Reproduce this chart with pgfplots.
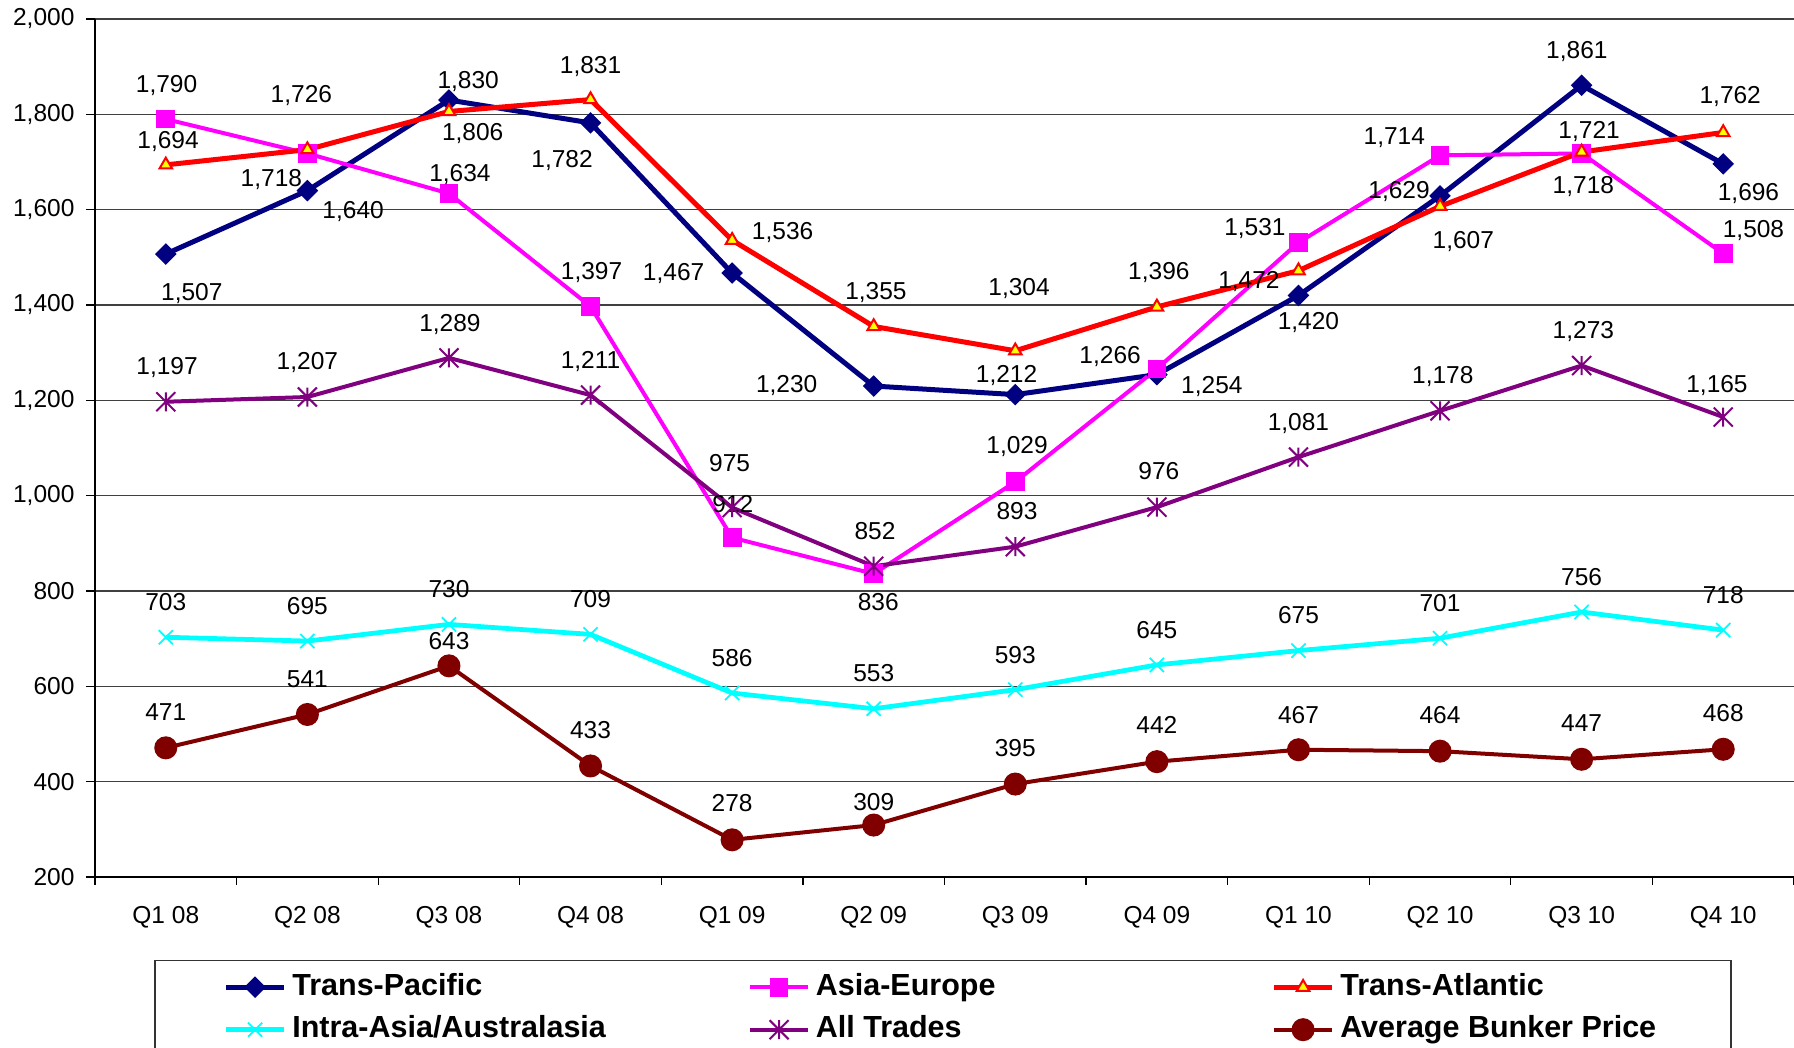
\documentclass[border=0pt]{standalone}
\usepackage{fontspec}
\setmainfont{Liberation Sans}
\usepackage{pgfplots}
\pgfplotsset{compat=1.18}

\definecolor{tpblue}{RGB}{0,0,128}
\definecolor{aemag}{RGB}{255,0,255}
\definecolor{tared}{RGB}{255,0,0}
\definecolor{tayel}{RGB}{255,255,0}
\definecolor{iacyan}{RGB}{0,255,255}
\definecolor{atpurp}{RGB}{128,0,128}
\definecolor{bkred}{RGB}{128,0,0}

% Excel-style star: an x with a vertical stroke
\pgfdeclareplotmark{xstar}{%
  \pgfpathmoveto{\pgfqpoint{-\pgfplotmarksize}{-\pgfplotmarksize}}%
  \pgfpathlineto{\pgfqpoint{\pgfplotmarksize}{\pgfplotmarksize}}%
  \pgfpathmoveto{\pgfqpoint{-\pgfplotmarksize}{\pgfplotmarksize}}%
  \pgfpathlineto{\pgfqpoint{\pgfplotmarksize}{-\pgfplotmarksize}}%
  \pgfpathmoveto{\pgfqpoint{0pt}{-\pgfplotmarksize}}%
  \pgfpathlineto{\pgfqpoint{0pt}{\pgfplotmarksize}}%
  \pgfusepathqstroke}

\newcommand{\lab}{\fontsize{9.8}{11}\selectfont}

\begin{document}
\begin{tikzpicture}
\begin{axis}[
    scale only axis,
    width=679.6pt, height=343.2pt,
    xmin=-0.5, xmax=11.5,
    ymin=200, ymax=2000,
    axis x line=bottom, axis y line=left,
    axis line style={-, black, line width=0.6pt},
    xtick={0,...,11},
    xticklabels={Q1 08,Q2 08,Q3 08,Q4 08,Q1 09,Q2 09,Q3 09,Q4 09,Q1 10,Q2 10,Q3 10,Q4 10},
    minor xtick={-0.5,0.5,...,11.5},
    major x tick style={draw=none},
    minor x tick style={black, line width=0.5pt},
    ytick={200,400,...,2000},
    ytick style={black, line width=0.5pt},
    tick align=outside,
    major tick length=3.5pt, minor tick length=3pt,
    ymajorgrids,
    major grid style={black!75, line width=0.5pt},
    scaled y ticks=false,
    /pgf/number format/assume math mode=true,
    tick label style={font=\lab, black},
    yticklabel style={/pgf/number format/1000 sep={,}, xshift=-1.2pt},
    xticklabel style={yshift=-4.8pt},
    point meta=y,
    nodes near coords={\pgfmathprintnumber[1000 sep={,}]{\pgfplotspointmeta}},
    visualization depends on={value \thisrow{dx} \as \dx},
    visualization depends on={value \thisrow{dy} \as \dy},
    every node near coord/.append style={black, font=\lab, inner sep=0pt,
        text height=0pt, text depth=0pt,
        xshift=\dx pt, yshift={(\dy-3.6)*1pt}},
    legend columns=3,
    legend style={
        at={(0.035,-0.0962)}, anchor=north west,
        draw=black!80, line width=0.5pt,
        inner xsep=27.5pt, inner ysep=5pt,
        font=\fontsize{12.2}{14}\selectfont\bfseries,
        row sep=5.4pt, column sep=0pt,
        nodes={inner xsep=2.4pt, inner ysep=0pt, text height=9pt, text depth=2.6pt},
        cells={anchor=west},
    },
    legend image code/.code={\draw[mark repeat=2,mark phase=2]
        plot coordinates {(0pt,0pt) (11.5pt,0pt) (23pt,0pt)};},
]

% Trans-Pacific
\addplot[tpblue, line width=2pt, mark=square*, mark size=2.8pt,
    mark options={rotate=45, fill=tpblue, line width=0.5pt}]
table[x=x, y=y]{
x y dx dy
0 1507 10.4 -15.7
1 1640 18.3 -8.4
2 1830 7.7 7.6
3 1782 -11.4 -15
4 1467 -23.4 0
5 1230 -34.8 0.4
6 1212 -3.5 7.8
7 1254 22 -4.8
8 1420 4 -10.9
9 1629 -16.4 1.6
10 1861 -1.9 13.4
11 1696 10.1 -11.8
};

% Asia-Europe
\addplot[aemag, line width=1.6pt, mark=square*, mark size=3.5pt,
    mark options={fill=aemag, line width=0.5pt}]
table[x=x, y=y]{
x y dx dy
0 1790 0.3 13.6
1 1718 -14.4 -10.4
2 1634 4.4 7.8
3 1397 0.4 13.6
4 912 0.3 13
5 836 1.8 -11.8
6 1029 0.7 14
7 1266 -18.7 5.2
8 1531 -17.4 5.8
9 1714 -18.3 7.2
10 1718 0.7 -13.3
11 1508 12.1 9.1
};

% Trans-Atlantic
\addplot[tared, line width=2pt, mark=triangle*, mark size=2.9pt,
    mark options={fill=tayel, draw=tared, line width=0.8pt}]
table[x=x, y=y]{
x y dx dy
0 1694 0.9 9.2
1 1726 -2.4 21.4
2 1806 9.5 -9
3 1831 0 13.2
4 1536 20.2 2.8
5 1355 0.9 13.5
6 1304 1.5 25
7 1396 0.8 13.7
8 1472 -19.8 -4.4
9 1607 9.3 -14.2
10 1721 3 8.1
11 1762 2.8 14.3
};

% Intra-Asia/Australasia
\addplot[iacyan, line width=1.9pt, mark=x, mark size=4pt,
    mark options={line width=0.7pt}]
table[x=x, y=y]{
x y dx dy
0 703 0 13.4
1 695 0 13.4
2 730 0 13.4
3 709 0 13.4
4 586 0 13.4
5 553 0 13.6
6 593 0 13.4
7 645 0 13.4
8 675 0 13.4
9 701 0 13.4
10 756 0 13.2
11 718 0 13.4
};

% All Trades
\addplot[atpurp, line width=1.6pt, mark=xstar, mark size=3.8pt,
    mark options={line width=0.8pt}]
table[x=x, y=y]{
x y dx dy
0 1197 0.5 13.7
1 1207 0 13.6
2 1289 0.4 13.1
3 1211 0 13.3
4 975 -1 17
5 852 0.5 13.4
6 893 0.7 13.4
7 976 0.8 13.8
8 1081 0 13.5
9 1178 1.1 13.6
10 1273 0.7 13.5
11 1165 -2.5 12.4
};

% Average Bunker Price
\addplot[bkred, line width=1.6pt, mark=*, mark size=3.8pt,
    mark options={fill=bkred}]
table[x=x, y=y]{
x y dx dy
0 471 0 13.3
1 541 0 13.2
2 643 0 8.9
3 433 0 13.3
4 278 0 13.5
5 309 0 8.2
6 395 0 13.2
7 442 0 13.4
8 467 0 12.7
9 464 0 13.3
10 447 0 13.3
11 468 0 13.4
};

\legend{\makebox[180pt][l]{Trans-Pacific}, \makebox[180pt][l]{Asia-Europe}, Trans-Atlantic,
        \makebox[180pt][l]{Intra-Asia/Australasia}, \makebox[180pt][l]{All Trades}, Average Bunker Price}
\end{axis}
\pgfresetboundingbox
\path[use as bounding box] (-38pt,-68pt) rectangle (679.6pt,350.8pt);
\end{tikzpicture}
\end{document}
